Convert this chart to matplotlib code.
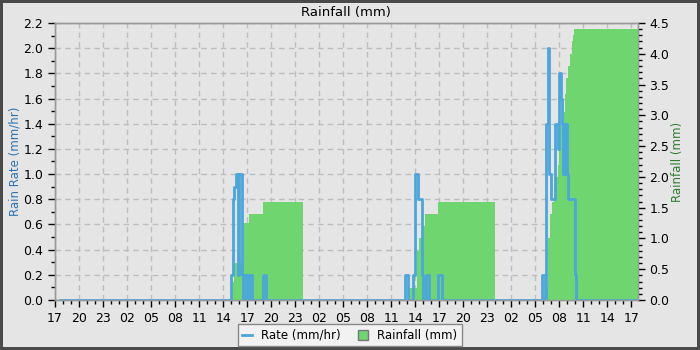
import numpy as np
import matplotlib
matplotlib.use('Agg')
import matplotlib.pyplot as plt
from matplotlib.ticker import MultipleLocator, FuncFormatter
from matplotlib.lines import Line2D

# hours since 17:00 on the first day
rate_hours = [0.6,
              21.97, 22.26, 22.38, 22.56, 22.81, 23.01, 23.38, 23.5, 23.63, 23.97, 24.26, 24.63, 26.0, 26.34,
              43.7, 44.1, 44.73, 44.98, 45.36, 45.86, 45.98, 46.32, 46.73, 47.85, 48.28,
              60.84, 61.17, 61.38, 61.51, 61.67, 61.92, 62.42, 62.5, 62.84, 62.96, 63.17, 63.26, 63.46,
              63.58, 63.71, 63.83, 63.96, 64.08, 64.92, 65.13, 72.75]
rate_vals = [0.0,
             0.2, 0.8, 0.9, 1.0, 0.2, 1.0, 0.2, 0.0, 0.2, 0.0, 0.2, 0.0, 0.2, 0.0,
             0.2, 0.0, 0.2, 1.0, 0.8, 0.2, 0.0, 0.2, 0.0, 0.2, 0.0,
             0.2, 0.0, 1.4, 2.0, 1.0, 0.8, 1.0, 1.4, 1.2, 1.8, 1.6, 1.4, 1.0,
             1.4, 1.0, 1.4, 1.0, 0.8, 0.2, 0.0, 0.0]

rain_hours = [0.6,
              22.1, 22.38, 23.38, 23.5, 24.2, 26.0, 31.0,
              44.1, 45.15, 45.44, 45.98, 46.19, 47.85, 55.0,
              61.17, 61.51, 61.8, 62.01, 62.34, 62.55, 62.76, 62.92, 63.17, 63.46, 63.67, 63.88,
              64.08, 64.29, 64.51, 64.71, 64.83, 72.75]
rain_vals = [0.0,
             0.3, 0.6, 1.2, 1.25, 1.4, 1.6, 0.0,
             0.2, 0.8, 1.0, 1.2, 1.4, 1.6, 0.0,
             0.2, 1.0, 1.4, 1.6, 1.8, 2.0, 2.2, 2.45, 2.85, 3.05, 3.35, 3.6,
             3.8, 4.0, 4.2, 4.3, 4.4, 4.4]

start_hour = 17
bg = '#e5e5e5'
blue = '#4ba6dc'
green = '#6fd66f'

fig = plt.figure(figsize=(7, 3.5), dpi=100, facecolor=bg, edgecolor='#4a4a4a', linewidth=3)
ax = fig.add_axes([55/700, 50/350, 582.5/700, 277/350])
ax.set_facecolor(bg)
ax2 = ax.twinx()

# grid from the left axis, behind the rainfall fill
ax.grid(True, which='major', color='#bdbdbd', linestyle=(0, (4, 3)), linewidth=1)
ax.set_axisbelow(True)

ax2.fill_between(rain_hours, rain_vals, 0, step='post', color=green, linewidth=0)
# rate line drawn on top of the fill, in left-axis coordinates
ax2.step(rate_hours, rate_vals, where='post', color=blue, linewidth=2, transform=ax.transData)

ax.set_xlim(0, 72.75)
ax.set_ylim(0, 2.2)
ax2.set_ylim(0, 4.5)

ax.xaxis.set_major_locator(MultipleLocator(3))
ax.xaxis.set_minor_locator(MultipleLocator(1))
ax.xaxis.set_major_formatter(FuncFormatter(lambda h, p: '%02d' % ((start_hour + int(round(h))) % 24)))
ax.yaxis.set_major_locator(MultipleLocator(0.2))
ax.yaxis.set_minor_locator(MultipleLocator(0.1))
ax.yaxis.set_major_formatter(FuncFormatter(lambda v, p: '%.1f' % v))
ax2.yaxis.set_major_locator(MultipleLocator(0.5))
ax2.yaxis.set_minor_locator(MultipleLocator(0.1))
ax2.yaxis.set_major_formatter(FuncFormatter(lambda v, p: '%.1f' % v))

for a in (ax, ax2):
    a.tick_params(which='major', direction='out', length=5, width=1, colors='black', labelsize=9)
    a.tick_params(which='minor', direction='out', length=3, width=1, colors='black')
    for s in a.spines.values():
        s.set_color('#999999')
        s.set_linewidth(1)

ax.set_ylabel('Rain Rate (mm/hr)', color='#2a74b5', fontsize=8.5, labelpad=1)
ax2.set_ylabel('Rainfall (mm)', color='#2e7d2e', fontsize=8.5, labelpad=1)
ax.set_title('Rainfall (mm)', fontsize=9.5, pad=5)

handles = [Line2D([], [], color=blue, linewidth=2),
           Line2D([], [], marker='s', color='none', markerfacecolor=green,
                  markeredgecolor='#777777', markersize=7)]
leg = fig.legend(handles, ['Rate (mm/hr)', 'Rainfall (mm)'], loc='lower center',
                 bbox_to_anchor=(0.5, 0.0), ncol=2, fontsize=8.5, handlelength=0.8,
                 fancybox=False, framealpha=1, edgecolor='#888888', facecolor='#f2f2f2',
                 borderaxespad=0.3, columnspacing=1.5)

fig.savefig('out.png', dpi=100, facecolor=fig.get_facecolor(), edgecolor=fig.get_edgecolor())
